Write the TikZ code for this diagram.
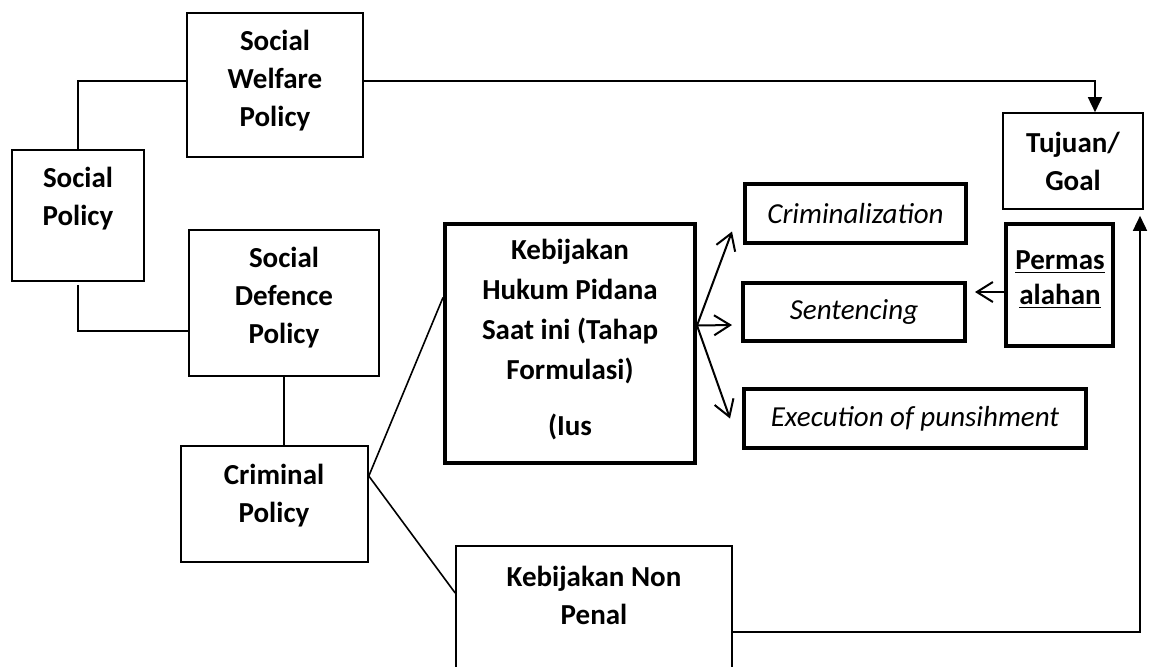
\documentclass[tikz,border=0pt]{standalone}
\usepackage{fontspec}
\setmainfont{Carlito}
\usetikzlibrary{arrows.meta}

\begin{document}
\begin{tikzpicture}[x=0.5pt,y=-0.5pt,
  thinbox/.style={draw, line width=0.8pt, inner sep=0pt},
  thickbox/.style={draw, line width=2pt, inner sep=0pt},
  boldtxt/.style={font=\fontsize{14.5}{19}\selectfont\bfseries, align=center},
  itxt/.style={font=\fontsize{14.5}{19}\selectfont\itshape},
  line/.style={line width=0.8pt},
  barb/.style={line width=1pt, -{Straight Barb[length=8pt,width=10pt]}},
  tri/.style={line width=0.8pt, -{Triangle[length=7.5pt,width=7pt]}}]

\useasboundingbox (0,0) rectangle (1150,666);

% policy boxes on the left
\node [thinbox, minimum width=88pt, minimum height=72pt] (swp) at (275,85) {};
\node [boldtxt] (swp-t) at (275,81) {Social\\Welfare\\Policy};
\node [thinbox, minimum width=66pt, minimum height=65.5pt] (sp) at (78,215.5) {};
\node [boldtxt] (sp-t) at (78,199) {Social\\Policy};
\node [thinbox, minimum width=95pt, minimum height=73pt] (sdp) at (284,303) {};
\node [boldtxt] (sdp-t) at (284,298) {Social\\Defence\\Policy};
\node [thinbox, minimum width=93.5pt, minimum height=58pt] (cp) at (274.5,504) {};
\node [boldtxt] (cp-t) at (274,496) {Criminal\\Policy};

% penal / non penal
\node [thickbox, minimum width=125pt, minimum height=119.5pt] (khp) at (570,343.5) {};
\node [boldtxt, font=\fontsize{14.5}{20}\selectfont\bfseries] (khp-t) at (570,340)
  {Kebijakan\\Hukum Pidana\\Saat ini (Tahap\\Formulasi)\\[8pt](Ius};
\node [thinbox, minimum width=138pt, minimum height=62pt] (npen) at (594,608) {};
\node [boldtxt] (npen-t) at (594,595) {Kebijakan Non\\Penal};

% formulation stages
\node [thickbox, minimum width=110.5pt, minimum height=29.5pt, itxt] (crim) at (855.5,213.5) {Criminalization};
\node [thickbox, minimum width=111pt, minimum height=29pt, itxt] (sent) at (854,312) {Sentencing};
\node [thickbox, minimum width=171pt, minimum height=29.5pt, itxt] (exec) at (915,418.5) {Execution of punsihment};

% goal and problem
\node [thinbox, minimum width=70pt, minimum height=48pt] (tuj) at (1073,161) {};
\node [boldtxt] (tuj-t) at (1073,161.5) {Tujuan/\\Goal};
\node [thickbox, minimum width=53.5pt, minimum height=61pt] (perm) at (1059.5,285) {};
\node [boldtxt, font=\fontsize{14.5}{17.5}\selectfont\bfseries] (perm-t) at (1060,279.5)
  {\underline{Permas}\\\underline{alahan}};

% connectors
\draw [line] (sp.north) |- ([yshift=2pt]swp.west);
\draw [line] ([yshift=-1.5pt]sp.south) |- ([yshift=-14pt]sdp.west);
\draw [line] (sdp.south) -- (sdp.south |- cp.north);
\coordinate (cpout) at ([yshift=14pt]cp.east);
\draw [line] (cpout) -- ([yshift=23pt]khp.west);
\draw [line] (cpout) -- ([yshift=7.5pt]npen.west);

\coordinate (khpout) at ([yshift=9pt]khp.east);
\foreach \n/\dx/\dy in {crim/-5.5/-9, sent/-4.5/-6.5, exec/-6/0}
  \draw [barb] (khpout) -- ([xshift=\dx pt,yshift=\dy pt]\n.west);
\draw [barb] ([yshift=-3.5pt]perm.west) -- ([xshift=4pt,yshift=10pt]sent.east);

\draw [tri] ([yshift=2pt]swp.east) -| ([xshift=11pt]tuj.north);
\draw [tri] ([yshift=-12pt]npen.east) -| ([xshift=33.5pt,yshift=-3pt]tuj.south);

\end{tikzpicture}
\end{document}
